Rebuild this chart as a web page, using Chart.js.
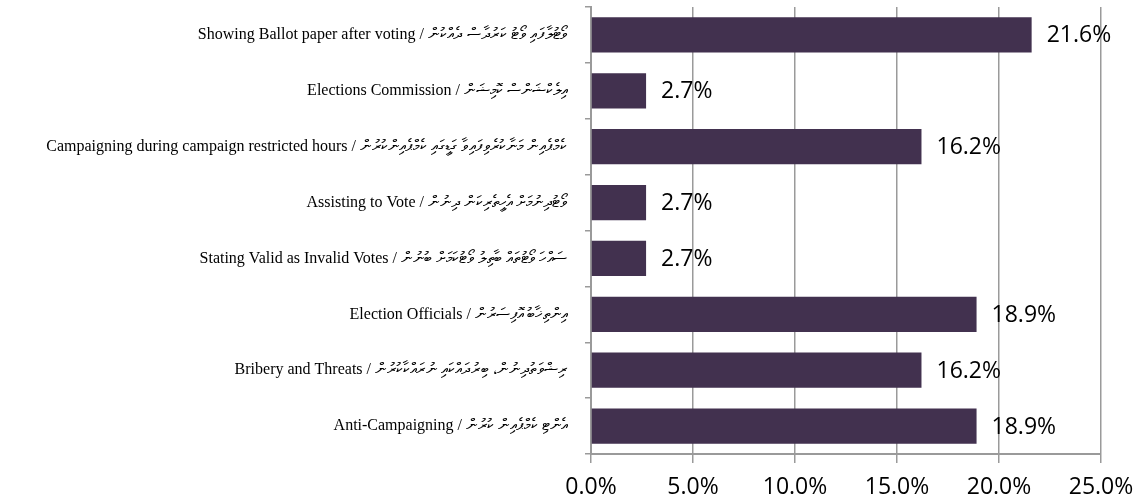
<!DOCTYPE html>
<html>
<head>
<meta charset="utf-8">
<script src="https://cdn.jsdelivr.net/npm/chart.js@4/dist/chart.umd.min.js"></script>
<style>
  html, body { margin: 0; padding: 0; background: #ffffff; }
  #wrap { width: 1135px; height: 503px; }
</style>
</head>
<body>
<div id="wrap"><canvas id="chart" width="1135" height="503"></canvas></div>
<script>
const categories = [
  "Showing Ballot paper after voting / ވޯޓުލާފައި ވޯޓު ކަރުދާސް ދެއްކުން",
  "Elections Commission / އިލެކްޝަންސް ކޮމިޝަން",
  "Campaigning during campaign restricted hours / ކެމްޕެއިން މަނާކުރެވިފައިވާ ގަޑީގައި ކެމްޕެއިންކުރުން",
  "Assisting to Vote / ވޯޓުދިނުމަށް އެހީތެރިކަން ދިނުން",
  "Stating Valid as Invalid Votes / ސައްހަ ވޯޓުތައް ބާތިލު ވޯޓުކަމަށް ބުނުން",
  "Election Officials / އިންތިޚާބު އޮފިސަރުން",
  "Bribery and Threats / ރިޝްވަތުދިނުން، ބިރުދައްކައި ނުރައްކާކުރުން",
  "Anti-Campaigning / އެންޓި ކެމްޕެއިން ކުރުން"
];
const shares = [21.6, 2.7, 16.2, 2.7, 2.7, 18.9, 16.2, 18.9];
const xTicks = [0, 5, 10, 15, 20, 25];

const BAR = "#42314f";
const GRID = "#9a9a9a";

const valueLabels = {
  id: "valueLabels",
  afterDatasetsDraw(chart) {
    const ctx = chart.ctx;
    const meta = chart.getDatasetMeta(0);
    ctx.save();
    ctx.font = "23px 'Open Sans'";
    ctx.fillStyle = "#000000";
    ctx.textAlign = "left";
    ctx.textBaseline = "middle";
    meta.data.forEach((bar, i) => {
      ctx.fillText(shares[i].toFixed(1) + "%", bar.x + 15, bar.y + 1);
    });
    ctx.restore();
  }
};

new Chart(document.getElementById("chart"), {
  type: "bar",
  data: {
    labels: categories,
    datasets: [{
      data: shares,
      backgroundColor: BAR,
      borderWidth: 0,
      barPercentage: 0.63,
      categoryPercentage: 1
    }]
  },
  plugins: [valueLabels],
  options: {
    indexAxis: "y",
    responsive: false,
    animation: false,
    layout: { padding: { top: 7, right: 34, left: 0, bottom: 0 } },
    plugins: {
      legend: { display: false },
      tooltip: { enabled: false }
    },
    scales: {
      x: {
        min: 0,
        max: 25,
        afterBuildTicks: scale => {
          scale.ticks = xTicks.map(v => ({ value: v }));
        },
        afterFit: scale => {
          scale.height = 49;
          scale.paddingLeft = 0;
          scale.paddingRight = 0;
        },
        ticks: {
          padding: 11,
          color: "#000000",
          font: { family: "'Open Sans'", size: 23 },
          callback: v => Number(v).toFixed(1) + "%"
        },
        grid: {
          color: GRID,
          lineWidth: 1.5,
          tickLength: 9
        },
        border: { color: GRID, width: 2 }
      },
      y: {
        afterFit: scale => {
          scale.width = 591;
          scale.paddingTop = 0;
          scale.paddingBottom = 0;
        },
        ticks: {
          padding: 18,
          color: "#000000",
          font: { family: "'Liberation Serif', 'Times New Roman', serif", size: 16 }
        },
        grid: {
          drawOnChartArea: false,
          color: GRID,
          lineWidth: 1.5,
          tickLength: 6
        },
        border: { color: GRID, width: 2 }
      }
    }
  }
});
</script>
</body>
</html>
